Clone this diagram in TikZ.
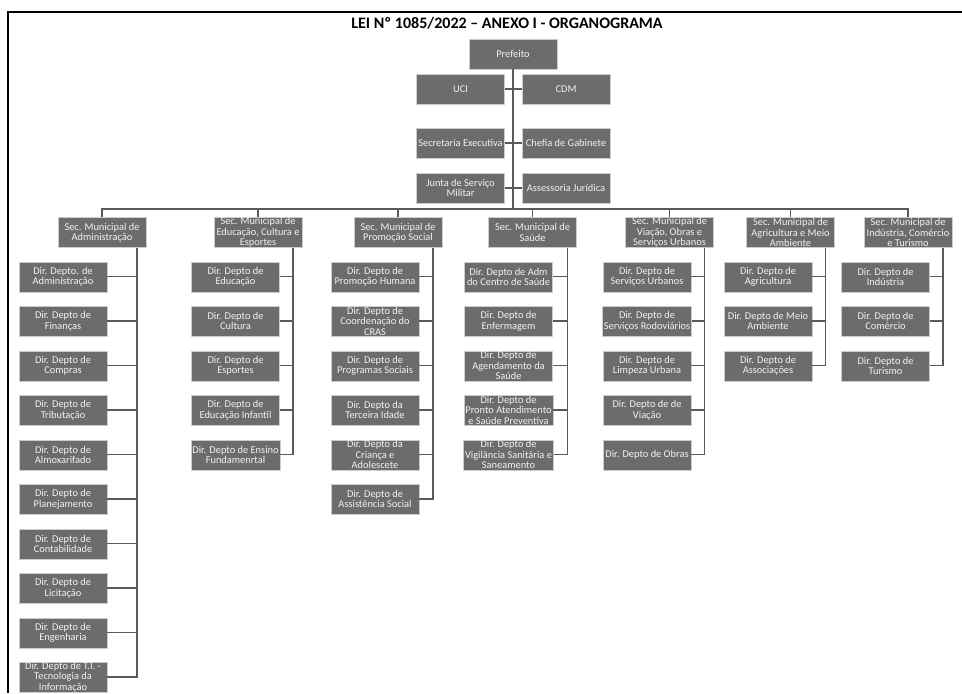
\documentclass[tikz,border=0pt]{standalone}
\usepackage{fontspec}
\setmainfont{Carlito}
\usepackage{tikz}
\definecolor{boxgray}{RGB}{108,108,108}
\definecolor{linegray}{RGB}{90,90,90}
\definecolor{boxtext}{RGB}{242,242,242}
\tikzstyle{box}   = [rectangle, fill=boxgray, draw=black!20, line width=0.3pt, text=boxtext, minimum width=66pt, minimum height=22.5pt, inner xsep=1pt, inner ysep=0pt, align=center, font=\fontsize{7.8}{7.8}\selectfont]
\tikzstyle{conn}  = [draw=linegray, line width=1.1pt]
\tikzstyle{frame} = [black, line width=1.5pt]
\tikzstyle{title} = [font=\fontsize{12}{14}\selectfont\bfseries, anchor=base]

\begin{document}
\begin{tikzpicture}[x=0.75pt, y=-0.75pt]
		\useasboundingbox (0,0) rectangle (962,693);
		\draw[frame] (8,693) -- (8,12) -- (962,12);
		\node[title] (title) at (507,28) {LEI Nº 1085/2022 – ANEXO I - ORGANOGRAMA};

		\node[box] (pref)   at (513,54)    {Prefeito};
		\node[box] (uci)    at (460.5,89)  {UCI};
		\node[box] (cdm)    at (566,89)    {CDM};
		\node[box] (sexec)  at (460.5,143) {Secretaria Executiva};
		\node[box] (chefia) at (566,143)   {Chefia de Gabinete};
		\node[box] (junta)  at (460.5,188) {Junta de Serviço\\Militar};
		\node[box] (assjur) at (566,188)   {Assessoria Jurídica};
		\coordinate (bus) at (513,209);

		\node[box] (adm)    at (102,232.5)   {Sec. Municipal de\\Administração};
		\node[box] (edu)    at (258,232.5)   {Sec. Municipal de\\Educação, Cultura e\\Esportes};
		\node[box] (promo)  at (398,232.5)   {Sec. Municipal de\\Promoção Social};
		\node[box] (saude)  at (532.5,232.5) {Sec. Municipal de\\Saúde};
		\node[box] (viacao) at (669.5,232.5) {Sec. Municipal de\\Viação, Obras e\\Serviços Urbanos};
		\node[box] (agric)  at (790.5,232.5) {Sec. Municipal de\\Agricultura e Meio\\Ambiente};
		\node[box] (ind)    at (908,232.5)   {Sec. Municipal de\\Indústria, Comércio\\e Turismo};

		\draw[conn] (pref.south) -- (bus);
		\draw[conn] (uci) -- (cdm);
		\draw[conn] (sexec) -- (chefia);
		\draw[conn] (junta) -- (assjur);
		\foreach \s in {adm,edu,promo,saude,viacao,agric,ind}
			\draw[conn] (\s.north) |- (bus);

		\foreach \t [count=\i] in {{Dir. Depto. de\\Administração}, {Dir. Depto de\\Finanças}, {Dir. Depto de\\Compras}, {Dir. Depto de\\Tributação}, {Dir. Depto de\\Almoxarifado}, {Dir. Depto de\\Planejamento}, {Dir. Depto de\\Contabilidade}, {Dir. Depto de\\Licitação}, {Dir. Depto de\\Engenharia}, {Dir. Depto de T.I. -\\Tecnologia da\\Informação}}
			\node[box] (adm\i) at (63,{276.7+44.5*(\i-1)}) {\t};
		\foreach \t [count=\i] in {{Dir. Depto de\\Educação}, {Dir. Depto de\\Cultura}, {Dir. Depto de\\Esportes}, {Dir. Depto de\\Educação Infantil}, {Dir. Depto de Ensino\\Fundamenrtal}}
			\node[box] (edu\i) at (235.5,{276.7+44.5*(\i-1)}) {\t};
		\foreach \t [count=\i] in {{Dir. Depto de\\Promoção Humana}, {Dir. Depto de\\Coordenação do\\CRAS}, {Dir. Depto de\\Programas Sociais}, {Dir. Depto da\\Terceira Idade}, {Dir. Depto da\\Criança e\\Adolescete}, {Dir. Depto de\\Assistência Social}}
			\node[box] (promo\i) at (375,{276.7+44.5*(\i-1)}) {\t};
		\foreach \t [count=\i] in {{Dir. Depto  de Adm\\do Centro de Saúde}, {Dir. Depto de\\Enfermagem}, {Dir. Depto de\\Agendamento da\\Saúde}, {Dir. Depto de\\Pronto Atendimento\\e Saúde Preventiva}, {Dir. Depto de\\Vigilância Sanitária e\\Saneamento}}
			\node[box] (saude\i) at (508.5,{276.7+44.5*(\i-1)}) {\t};
		\foreach \t [count=\i] in {{Dir. Depto de\\Serviços Urbanos}, {Dir. Depto de\\Serviços Rodoviários}, {Dir. Depto de\\Limpeza Urbana}, {Dir. Depto de de\\Viação}, {Dir. Depto de Obras}}
			\node[box] (viacao\i) at (647,{276.7+44.5*(\i-1)}) {\t};
		\foreach \t [count=\i] in {{Dir. Depto de\\Agricultura}, {Dir. Depto de Meio\\Ambiente}, {Dir. Depto de\\Associações}}
			\node[box] (agric\i) at (768,{276.7+44.5*(\i-1)}) {\t};
		\foreach \t [count=\i] in {{Dir. Depto de\\Indústria}, {Dir. Depto de\\Comércio}, {Dir. Depto de\\Turismo}}
			\node[box] (ind\i) at (885.5,{276.7+44.5*(\i-1)}) {\t};

		\foreach \i in {1,...,10}
			\draw[conn] (adm\i.east) -| ([xshift=-7pt]adm.south east);
		\foreach \s/\n in {edu/5,promo/6,saude/5,viacao/5,agric/3,ind/3}
			\foreach \i in {1,...,\n}
				\draw[conn] (\s\i.east) -| ([xshift=-7pt]\s.south east);
	\end{tikzpicture}
\end{document}
